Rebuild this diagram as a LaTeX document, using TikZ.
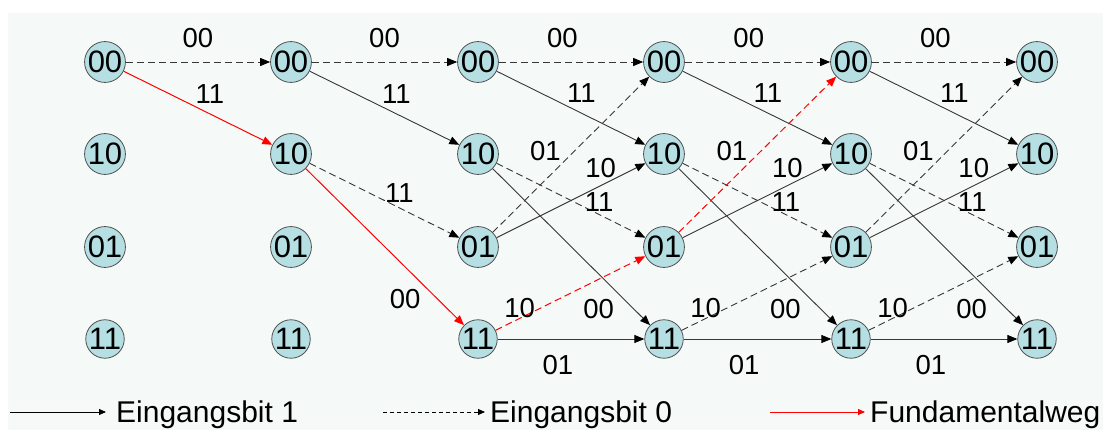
\documentclass[tikz,border=0pt]{standalone}
\usepackage{fontspec}
\setmainfont{Liberation Sans}
\usetikzlibrary{arrows.meta}
\definecolor{hgrund}{RGB}{245,250,248}
\definecolor{zfill}{RGB}{182,223,227}
\definecolor{zrand}{RGB}{80,80,80}
\definecolor{kante}{RGB}{55,55,55}
\tikzset{
  zustand/.style={circle, draw=zrand, line width=0.8pt, fill=zfill, minimum size=36pt, inner sep=0pt, font=\fontsize{31}{31}\selectfont},
  biteins/.style={draw=kante, line width=0.9pt, -{Triangle[length=10pt,width=8pt,color=black]}},
  bitnull/.style={biteins, dash pattern=on 7pt off 4pt},
  fundweg/.style={draw=red, line width=1pt, -{Triangle[length=10pt,width=8pt,color=red]}},
  fundnull/.style={fundweg, dash pattern=on 7pt off 4pt},
  lab/.style={inner sep=0pt, font=\fontsize{27.5}{27.5}\selectfont},
  legtext/.style={inner sep=0pt, font=\fontsize{30}{30}\selectfont},
  legpfeil/.style={line width=0.9pt, -{Triangle[length=7pt,width=6pt]}}
}
\begin{document}
\begin{tikzpicture}[x=1pt, y=-1pt]
\useasboundingbox (0,0) rectangle (1103,430);
\fill[hgrund] (8,13) rectangle (1103,430);

% Zustaende: sechs Zeitschritte, vier Zustaende
\foreach \c/\x in {1/105,2/291,3/478,4/664,5/851,6/1037} {
  \foreach \s/\y in {00/62,10/154,01/247,11/339} {
    \node[zustand] (z\c-\s) at (\x,\y) {\s};
  }
}

% Schritt 1
\draw[bitnull] (z1-00) -- node[lab, pos=.5, above=14pt] {00} (z2-00);
\draw[fundweg] (z1-00) -- node[lab, pos=.58, above=10pt] {11} (z2-10);

% Schritt 2
\draw[bitnull] (z2-00) -- node[lab, pos=.5, above=14pt] {00} (z3-00);
\draw[biteins] (z2-00) -- node[lab, pos=.58, above=10pt] {11} (z3-10);
\draw[bitnull] (z2-10) -- node[lab, pos=.6, above=5pt] {11} (z3-01);
\draw[fundweg] (z2-10) -- node[lab, pos=.835, left=17pt] {00} (z3-11);

% Schritte 3 bis 5 (alle Uebergaenge)
\foreach \a/\b/\sa/\sb in {3/4/bitnull/fundnull, 4/5/fundnull/bitnull, 5/6/bitnull/bitnull} {
  \draw[bitnull] (z\a-00) -- node[lab, pos=.44, above=14pt] {00} (z\b-00);
  \draw[biteins] (z\a-00) -- node[lab, pos=.57, above=10pt] {11} (z\b-10);
  \draw[bitnull] (z\a-10) -- node[lab, pos=.69, above=3pt] {11} (z\b-01);
  \draw[biteins] (z\a-10) -- node[lab, pos=.9, left=20pt] {00} (z\b-11);
  \draw[\sa] (z\a-01) -- node[lab, pos=.52, left=13pt] {01} (z\b-00);
  \draw[biteins] (z\a-01) -- node[lab, pos=.7, above=7pt] {10} (z\b-10);
  \draw[\sb] (z\a-11) -- node[lab, pos=.16, above=0pt] {10} (z\b-01);
  \draw[biteins] (z\a-11) -- node[lab, pos=.41, below=16pt] {01} (z\b-11);
}

% Legende
\coordinate (l1a) at (10,412);
\coordinate (l1b) at (106,412);
\node[legtext, anchor=west] (l1) at (116,415) {Eingangsbit 1};
\draw[legpfeil, draw=black] (l1a) -- (l1b);
\coordinate (l2a) at (383,412);
\coordinate (l2b) at (485,412);
\node[legtext, anchor=west] (l2) at (490,415) {Eingangsbit 0};
\draw[legpfeil, draw=black, dash pattern=on 4pt off 3pt] (l2a) -- (l2b);
\coordinate (l3a) at (770,412);
\coordinate (l3b) at (865,412);
\node[legtext, anchor=west] (l3) at (870,415) {Fundamentalweg};
\draw[legpfeil, draw=red, -{Triangle[length=7pt,width=6pt,color=red]}] (l3a) -- (l3b);
\end{tikzpicture}
\end{document}
